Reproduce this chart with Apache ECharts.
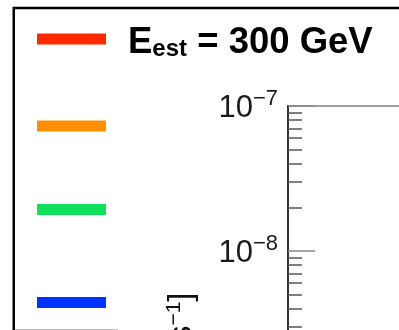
<!DOCTYPE html>
<html>
<head>
<meta charset="utf-8">
<script src="https://cdn.jsdelivr.net/npm/echarts@6/dist/echarts.min.js"></script>
<style>
html,body{margin:0;padding:0;background:#fff;}
#chart{width:399px;height:330px;}
</style>
</head>
<body>
<div id="chart"></div>
<script>
// ---- data ----
var seriesNames = ['E_est = 300 GeV', 'E_est (2)', 'E_est (3)', 'E_est (4)'];
var seriesColors = ['#ff2800', '#ff8f00', '#10e05c', '#0033ff'];
var legendLabels = ['{e|E}{sub|est}{e| = 300 GeV}', '', '', ''];
var seriesData = [[], [], [], []];           // no points visible in this view
var majorTicks = [1e-9, 1e-8, 1e-7];
var minorTicks = [2e-9,3e-9,4e-9,5e-9,6e-9,7e-9,8e-9,9e-9,
                  2e-8,3e-8,4e-8,5e-8,6e-8,7e-8,8e-8,9e-8];
var yMin = 1e-9, yMax = 1e-7;
var yAxisTitle = 'Flux [cm{s|−2} s{s|−1}]';

var FONT = 'Liberation Sans';
var chart = echarts.init(document.getElementById('chart'), null, {renderer: 'canvas'});

var legendTops = [24.5, 120.5, 204, 297];
var legends = seriesNames.map(function (n, i) {
  var first = i === 0;
  return {
    data: [n], left: 37, top: legendTops[i], padding: 0,
    icon: 'rect', itemWidth: 69, itemHeight: 11, selectedMode: false,
    formatter: function () { return legendLabels[i]; },
    textStyle: first ? {
      fontFamily: FONT, fontWeight: 'bold', fontSize: 36.5, color: '#000',
      padding: [5, 0, 0, 17],
      rich: {
        e: {fontFamily: FONT, fontWeight: 'bold', fontSize: 36.5, lineHeight: 40, verticalAlign: 'bottom', color: '#000'},
        sub: {fontFamily: FONT, fontWeight: 'bold', fontSize: 24, lineHeight: 28, verticalAlign: 'bottom', color: '#000'}
      }
    } : {fontSize: 10, lineHeight: 11, padding: 0}
  };
});

var series = seriesNames.map(function (n, i) {
  return {name: n, type: 'line', data: seriesData[i], yAxisIndex: 0,
          color: seriesColors[i], itemStyle: {color: seriesColors[i]},
          lineStyle: {color: seriesColors[i]}, showSymbol: false};
});

var option = {
  animation: false,
  backgroundColor: '#fff',
  legend: legends,
  grid: {left: 288, top: 106, right: -200, bottom: -66, show: true, containLabel: false,
         outerBoundsMode: 'none',
         borderColor: '#808080', borderWidth: 1.5, backgroundColor: 'transparent'},
  xAxis: {type: 'value', min: 0, max: 1, axisLine: {show: false}, axisTick: {show: false},
          axisLabel: {show: false}, splitLine: {show: false}},
  yAxis: [{
    type: 'log', logBase: 10, min: yMin, max: yMax, position: 'left',
    axisLine: {show: true, lineStyle: {color: '#333', width: 2}},
    axisTick: {show: true, inside: true, length: 27, customValues: majorTicks,
               lineStyle: {color: '#888', width: 1.5}},
    minorTick: {show: false},
    splitLine: {show: false},
    axisLabel: {
      show: true, customValues: majorTicks, margin: 10, align: 'right', verticalAlign: 'middle',
      formatter: function (v) { return '{b|10}{s|−' + Math.abs(Math.round(Math.log10(v))) + '}'; },
      rich: {
        b: {fontFamily: FONT, fontSize: 31, lineHeight: 36, verticalAlign: 'bottom', color: '#1a1a1a'},
        s: {fontFamily: FONT, fontSize: 22, lineHeight: 22, verticalAlign: 'top', color: '#1a1a1a'}
      }
    }
  }, {
    type: 'log', logBase: 10, min: yMin, max: yMax, position: 'left', offset: 0,
    axisLine: {show: false},
    axisTick: {show: true, inside: true, length: 14, customValues: minorTicks,
               lineStyle: {color: '#555', width: 1.5}},
    axisLabel: {show: false}, splitLine: {show: false}, minorTick: {show: false}
  }],
  series: series,
  graphic: [
    {type: 'rect', z: -1, shape: {x: 13.75, y: 8, width: 700, height: 700},
     style: {fill: 'none', stroke: '#000', lineWidth: 2.5}},
    {type: 'line', shape: {x1: 15, y1: 329.5, x2: 118, y2: 329.5},
     style: {stroke: '#bdbdbd', lineWidth: 1}},
    {type: 'text', x: 182, y: 292.5, rotation: Math.PI / 2,
     style: {text: yAxisTitle, fontFamily: FONT, fontSize: 33, fill: '#111',
             align: 'right', verticalAlign: 'middle', lineHeight: 36,
             rich: {s: {fontFamily: FONT, fontSize: 21, lineHeight: 21, verticalAlign: 'top', fill: '#111'}}}}
  ]
};
chart.setOption(option);
</script>
</body>
</html>
